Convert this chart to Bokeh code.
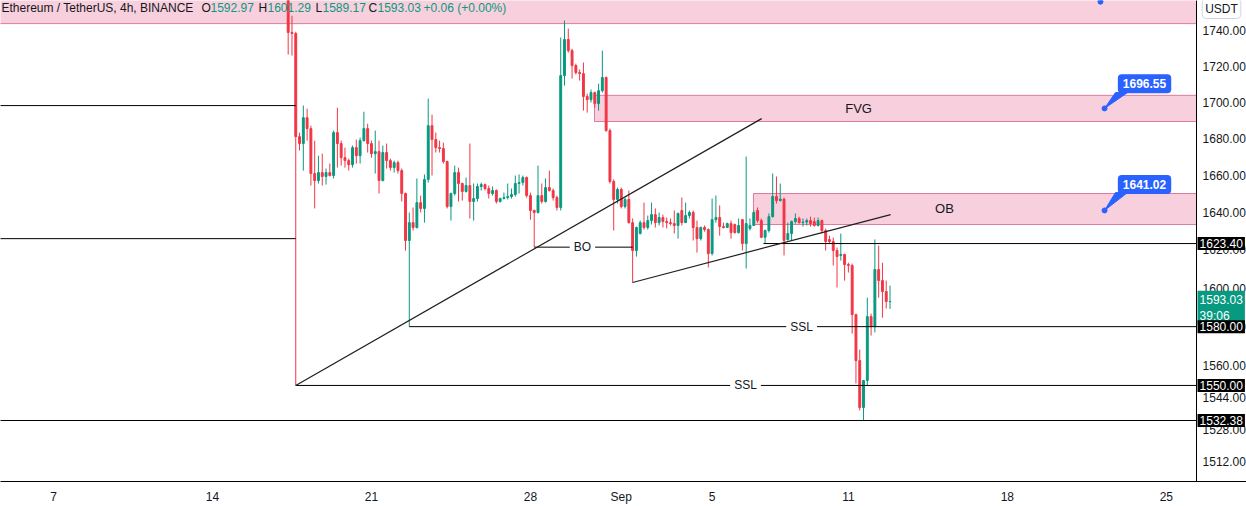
import numpy as np
import pandas as pd
from bokeh.plotting import figure
from bokeh.models import ColumnDataSource, FixedTicker, PrintfTickFormatter, Label, Range1d
from bokeh.embed import file_html
from bokeh.resources import INLINE

FONT = "Liberation Sans"
UP = "#089981"
DOWN = "#f23645"
INK = "#131722"

# ---------------- data (ETH/USDT 4h, Binance) ----------------
first_bar = "2023-08-17 08:00"
origin = "2023-08-07"          # x axis unit: days since Aug 7

opens = [
    1772.0, 1739.1, 1738.5, 1681.0, 1677.2, 1691.4, 1685.4, 1660.9, 1657.1, 1661.4,
    1659.3, 1661.4, 1659.8, 1683.2, 1677.2, 1669.5, 1667.9, 1665.7, 1675.0, 1670.6,
    1678.8, 1685.4, 1677.2, 1671.7, 1672.8, 1657.1, 1672.3, 1667.9, 1664.1, 1666.8,
    1662.5, 1650.1, 1625.0, 1634.5, 1631.9, 1645.2, 1642.1, 1657.7, 1687.0, 1679.4,
    1675.0, 1674.5, 1667.4, 1643.1, 1650.1, 1661.4, 1655.5, 1651.2, 1654.4, 1645.8,
    1647.4, 1653.9, 1654.9, 1652.8, 1650.1, 1651.7, 1645.8, 1647.4, 1647.9, 1648.5,
    1649.6, 1655.5, 1656.0, 1658.7, 1649.0, 1641.0, 1639.9, 1649.0, 1645.8, 1653.3,
    1651.7, 1647.9, 1642.6, 1714.8, 1735.1, 1728.8, 1720.4, 1716.5, 1715.9, 1703.1,
    1701.4, 1705.3, 1699.2, 1706.4, 1713.7, 1684.3, 1656.6, 1646.9, 1652.3, 1643.1,
    1646.9, 1634.5, 1619.7, 1628.7, 1634.5, 1631.9, 1635.6, 1638.8, 1634.5, 1637.2,
    1635.1, 1634.5, 1634.0, 1633.0, 1641.0, 1634.5, 1638.3, 1639.9, 1631.9, 1626.0,
    1631.9, 1630.8, 1618.1, 1636.1, 1637.2, 1632.4, 1631.9, 1634.0, 1633.5, 1629.2,
    1636.1, 1623.4, 1631.4, 1633.0, 1641.0, 1635.6, 1626.7, 1630.3, 1637.7, 1648.5,
    1646.3, 1647.1, 1625.5, 1628.7, 1635.1, 1636.7, 1634.5, 1634.8, 1635.6, 1635.1,
    1633.0, 1635.6, 1630.3, 1625.5, 1624.5, 1619.7, 1617.1, 1617.6, 1612.3, 1611.8,
    1586.2, 1562.6, 1538.9, 1552.5, 1585.2, 1580.0, 1609.7, 1603.9, 1598.2, 1592.97,
]
highs = [
    1781.0, 1748.6, 1739.5, 1683.2, 1698.1, 1696.4, 1687.0, 1678.8, 1670.6, 1671.7,
    1663.6, 1666.3, 1684.3, 1696.9, 1678.8, 1675.0, 1669.0, 1676.1, 1679.4, 1680.4,
    1694.7, 1688.1, 1678.8, 1684.3, 1678.8, 1676.1, 1677.2, 1669.0, 1667.9, 1667.9,
    1663.6, 1650.6, 1639.9, 1642.6, 1658.2, 1649.0, 1660.4, 1702.0, 1693.1, 1683.2,
    1678.8, 1677.7, 1667.9, 1650.6, 1665.2, 1664.1, 1656.0, 1658.7, 1677.2, 1655.5,
    1655.5, 1656.0, 1655.5, 1654.4, 1653.9, 1652.3, 1647.9, 1650.6, 1655.5, 1652.8,
    1659.8, 1660.4, 1659.8, 1659.3, 1650.6, 1641.5, 1665.2, 1655.5, 1658.2, 1662.5,
    1652.8, 1649.0, 1736.2, 1745.8, 1741.3, 1729.9, 1721.5, 1718.2, 1722.1, 1704.7,
    1707.0, 1705.9, 1710.3, 1728.8, 1714.3, 1685.4, 1657.7, 1653.3, 1653.3, 1647.9,
    1651.7, 1636.7, 1632.4, 1635.6, 1645.2, 1638.3, 1645.2, 1642.1, 1639.9, 1638.8,
    1637.2, 1636.7, 1641.0, 1639.9, 1648.0, 1645.2, 1641.0, 1641.0, 1635.6, 1632.4,
    1633.0, 1631.4, 1647.4, 1649.0, 1643.7, 1634.5, 1634.5, 1635.6, 1634.0, 1636.7,
    1636.1, 1670.1, 1636.7, 1641.0, 1642.6, 1636.7, 1630.8, 1639.4, 1660.9, 1659.3,
    1655.5, 1647.9, 1634.5, 1635.6, 1639.4, 1637.7, 1636.7, 1636.7, 1637.7, 1637.2,
    1637.2, 1636.1, 1631.4, 1627.6, 1626.6, 1621.3, 1628.7, 1618.1, 1613.3, 1612.8,
    1586.7, 1568.2, 1552.5, 1595.0, 1586.7, 1625.6, 1622.3, 1613.3, 1603.9, 1601.29,
]
lows = [
    1726.6, 1726.0, 1550.0, 1673.4, 1662.5, 1678.8, 1654.4, 1642.1, 1655.5, 1654.4,
    1654.9, 1659.3, 1658.2, 1664.1, 1665.2, 1664.1, 1662.5, 1664.1, 1666.3, 1666.3,
    1678.3, 1672.3, 1669.5, 1660.9, 1650.1, 1656.6, 1663.6, 1662.5, 1661.4, 1660.9,
    1645.8, 1619.7, 1580.0, 1630.3, 1631.4, 1639.9, 1634.5, 1656.0, 1659.8, 1672.3,
    1672.3, 1666.3, 1642.1, 1635.6, 1649.0, 1645.8, 1646.3, 1650.6, 1636.7, 1635.6,
    1645.8, 1651.7, 1651.7, 1647.4, 1649.0, 1644.7, 1645.2, 1646.9, 1646.9, 1647.4,
    1648.5, 1650.1, 1654.4, 1647.9, 1636.1, 1621.5, 1639.4, 1644.7, 1645.2, 1651.2,
    1646.3, 1641.0, 1641.0, 1709.2, 1727.7, 1713.1, 1715.4, 1712.0, 1695.3, 1694.2,
    1699.8, 1697.0, 1695.3, 1705.3, 1683.7, 1655.5, 1630.3, 1644.7, 1642.1, 1642.1,
    1634.0, 1602.9, 1616.5, 1628.2, 1630.8, 1630.8, 1633.5, 1631.9, 1633.0, 1631.9,
    1631.4, 1633.0, 1628.7, 1626.0, 1633.0, 1634.5, 1636.7, 1625.0, 1618.6, 1625.0,
    1629.7, 1610.8, 1617.1, 1634.5, 1627.6, 1631.4, 1631.9, 1626.0, 1628.7, 1628.7,
    1619.7, 1610.2, 1630.3, 1633.0, 1634.5, 1626.2, 1623.4, 1629.2, 1637.2, 1644.7,
    1645.8, 1617.1, 1625.0, 1625.0, 1634.0, 1634.0, 1632.4, 1633.0, 1632.4, 1632.4,
    1632.4, 1628.7, 1619.7, 1623.4, 1611.8, 1600.3, 1614.4, 1603.9, 1608.1, 1576.4,
    1551.0, 1537.4, 1532.38, 1549.9, 1575.4, 1577.0, 1595.0, 1584.6, 1589.4, 1589.17,
]
closes = [
    1739.1, 1738.5, 1681.0, 1677.2, 1691.4, 1685.4, 1660.9, 1657.1, 1661.4, 1659.3,
    1661.4, 1659.8, 1683.2, 1677.2, 1669.5, 1667.9, 1665.7, 1675.0, 1670.6, 1678.8,
    1685.4, 1677.2, 1671.7, 1672.8, 1657.1, 1672.3, 1667.9, 1664.1, 1666.8, 1662.5,
    1650.1, 1625.0, 1634.5, 1631.9, 1645.2, 1642.1, 1657.7, 1687.0, 1679.4, 1675.0,
    1674.5, 1667.4, 1643.1, 1650.1, 1661.4, 1655.5, 1651.2, 1654.4, 1645.8, 1647.4,
    1653.9, 1654.9, 1652.8, 1650.1, 1651.7, 1645.8, 1647.4, 1647.9, 1648.5, 1649.6,
    1655.5, 1656.0, 1658.7, 1649.0, 1641.0, 1639.9, 1649.0, 1645.8, 1653.3, 1651.7,
    1647.9, 1642.6, 1714.8, 1735.1, 1728.8, 1720.4, 1716.5, 1715.9, 1703.1, 1701.4,
    1705.3, 1699.2, 1706.4, 1713.7, 1684.3, 1656.6, 1646.9, 1652.3, 1643.1, 1646.9,
    1634.5, 1619.7, 1631.9, 1634.5, 1631.9, 1635.6, 1638.8, 1634.5, 1637.2, 1635.1,
    1634.5, 1634.0, 1633.0, 1639.4, 1634.5, 1638.3, 1639.9, 1631.9, 1626.0, 1631.9,
    1630.8, 1618.1, 1636.1, 1637.2, 1632.4, 1631.9, 1634.0, 1629.2, 1629.2, 1633.0,
    1623.4, 1634.0, 1633.0, 1639.9, 1635.6, 1626.7, 1630.3, 1637.7, 1648.5, 1646.3,
    1647.1, 1625.0, 1628.7, 1635.1, 1636.7, 1634.5, 1634.8, 1635.6, 1634.0, 1633.0,
    1635.6, 1630.3, 1624.5, 1624.5, 1619.7, 1616.5, 1617.6, 1612.3, 1611.8, 1586.2,
    1562.6, 1538.9, 1552.5, 1585.2, 1580.0, 1609.7, 1603.9, 1598.2, 1592.97, 1593.03,
]

x_ticks = [0, 7, 14, 21, 25, 29, 35, 42, 49]
x_tick_labels = ["7", "14", "21", "28", "Sep", "5", "11", "18", "25"]
y_ticks = [1512, 1528, 1544, 1560, 1580, 1600, 1620, 1640, 1660, 1680, 1700, 1720, 1740]

axis_x = 50.33                 # where the price scale begins (days)

# drawings: zones (top band, FVG, OB)
zone_left = [-3.0, 23.82, 30.82]
zone_bottom = [1744.1, 1689.3, 1633.5]
zone_top = [1800.0, 1703.8, 1650.1]

# horizontal levels
hline_levels = [1698.1, 1626.0, 1532.38, 1623.40, 1580.0, 1550.0, 1621.5]
hline_x0 = [-3.0, -3.0, -3.0, 31.26, 15.667, 10.667, 21.167]
hline_x1 = [10.667, 10.667, axis_x, axis_x, axis_x, axis_x, 25.5]

# trend lines
tl_x0 = [10.667, 25.5]
tl_y0 = [1550.0, 1602.9]
tl_x1 = [31.18, 36.86]
tl_y1 = [1690.9, 1638.8]

# text tags
tag_text = ["FVG", "OB", "BO", "SSL", "SSL"]
tag_x = [35.45, 39.23, 23.29, 32.94, 30.47]
tag_y = [1696.5, 1641.8, 1621.5, 1580.0, 1550.0]

# price callouts
callout_price = [1696.55, 1641.02]
callout_box_y = [1710.3, 1655.0]
callout_base_y = [1705.3, 1650.6]

right_marks = [1623.40, 1580.00, 1550.00, 1532.38]
last_ohlc = [1592.97, 1601.29, 1589.17, 1593.03]
header = "Ethereum / TetherUS, 4h, BINANCE"
change_txt = "+0.06 (+0.00%)"
countdown = "39:06"

# ---------------- figure ----------------
W, H = 1246, 506
AXB = 25
FH = H - AXB

dates = pd.date_range(first_bar, periods=len(opens), freq="4h")
xs = ((dates - pd.Timestamp(origin)) / pd.Timedelta(days=1)).to_numpy()
o = np.array(opens); c = np.array(closes)
colors = [UP if cc >= oo else DOWN for oo, cc in zip(o, c)]
src = ColumnDataSource(dict(x=xs, top=np.maximum(o, c), bottom=np.minimum(o, c),
                            high=highs, low=lows, color=colors))

p = figure(width=W, height=H, y_axis_type="log", y_axis_location="right",
           x_range=Range1d(-2.334, 52.53), y_range=Range1d(1502.2, 1757.3),
           toolbar_location=None, output_backend="svg",
           min_border_left=0, min_border_top=0,
           min_border_right=0, min_border_bottom=AXB)
p.background_fill_color = "white"
p.border_fill_color = "white"
p.outline_line_color = None
p.xgrid.visible = False
p.ygrid.visible = False

# zones
p.quad(left=zone_left, right=[axis_x] * len(zone_left), bottom=zone_bottom, top=zone_top,
       fill_color="#f8cfdc", line_color="#da7b9e", line_width=1)

# candles
p.segment(x0="x", y0="high", x1="x", y1="low", line_color="color", line_width=1, source=src)
p.vbar(x="x", width=0.5 / 6, top="top", bottom="bottom", fill_color="color",
       line_color="color", line_width=1, source=src)

# horizontal lines and trend lines
p.segment(x0=hline_x0, y0=hline_levels, x1=hline_x1, y1=hline_levels,
          line_color="black", line_width=1)
p.segment(x0=tl_x0, y0=tl_y0, x1=tl_x1, y1=tl_y1, line_color="#1e1e1e", line_width=1.2)

# callouts (blue)
tip_x = 46.28
box_x = 48.04
wedge_xs = [[46.76, 47.29, tip_x] for _ in callout_price] + [[46.5, 47.0, 46.1]]
wedge_ys = [[b, b, t] for b, t in zip(callout_base_y, callout_price)] + [[1775.0, 1775.0, 1756.6]]
p.patches(xs=wedge_xs, ys=wedge_ys, fill_color="#2962ff", line_color="#2962ff", line_width=1)
p.scatter(x=[tip_x] * len(callout_price) + [46.1], y=callout_price + [1756.6], size=5,
          color="#2962ff")
for pr, by in zip(callout_price, callout_box_y):
    p.add_layout(Label(x=box_x, y=by, text=f"{pr:.2f}", text_align="center",
                       text_baseline="middle", text_color="white", text_font=FONT,
                       text_font_size="12px", text_font_style="bold",
                       background_fill_color="#2962ff", border_radius=4, padding=5))

# tags on the chart
for t, tx, ty in zip(tag_text, tag_x, tag_y):
    boxed = t in ("BO", "SSL")
    p.add_layout(Label(x=tx, y=ty, text=t, text_align="center", text_baseline="middle",
                       text_color=INK, text_font=FONT,
                       text_font_size="12px" if boxed else "13px",
                       background_fill_color="white" if boxed else None,
                       padding=4 if boxed else 0))

# axes
p.yaxis.fixed_location = axis_x
p.yaxis.ticker = FixedTicker(ticks=y_ticks)
p.yaxis.formatter = PrintfTickFormatter(format="%.2f")
p.xaxis.ticker = FixedTicker(ticks=x_ticks)
p.xaxis.major_label_overrides = dict(zip(x_ticks, x_tick_labels))
for ax in (p.xaxis, p.yaxis):
    ax.axis_line_color = "black"
    ax.axis_line_width = 1
    ax.major_tick_line_color = None
    ax.minor_tick_line_color = None
    ax.major_tick_out = 0
    ax.major_tick_in = 0
    ax.major_label_text_font = FONT
    ax.major_label_text_font_size = "12px"
    ax.major_label_text_color = INK
p.yaxis.major_label_standoff = 6
p.xaxis.major_label_standoff = 8

# price marks on the right scale (countdown box first, level boxes on top)
p.add_layout(Label(x=axis_x, x_offset=1, y=1598.6, text=f"{last_ohlc[3]:.2f}\n{countdown}",
                   text_align="left", text_baseline="top", text_color="white",
                   text_font=FONT, text_font_size="12px", text_line_height=1.15,
                   background_fill_color=UP, padding=2))
for lvl in right_marks:
    p.add_layout(Label(x=axis_x, x_offset=1, y=lvl, text=f"{lvl:.2f}",
                       text_align="left", text_baseline="middle", text_color="white",
                       text_font=FONT, text_font_size="12px",
                       background_fill_color="black", padding=2))
p.add_layout(Label(x=axis_x + 1.1, y=FH - 8, y_units="screen", text="USDT",
                   text_align="center", text_baseline="middle", text_color=INK,
                   text_font=FONT, text_font_size="12px", background_fill_color="white",
                   border_line_color="#d1d4dc", border_radius=4, padding=3))

# legend line at top-left
ly = FH - 7
pieces = [(header, 1, INK),
          ("O", 201, INK), (f"{last_ohlc[0]:.2f}", 210, UP),
          ("H", 258, INK), (f"{last_ohlc[1]:.2f}", 267, UP),
          ("L", 315, INK), (f"{last_ohlc[2]:.2f}", 322, UP),
          ("C", 368, INK), (f"{last_ohlc[3]:.2f}", 377, UP),
          (change_txt, 423, UP)]
for txt, px, col in pieces:
    p.add_layout(Label(x=px, x_units="screen", y=ly, y_units="screen", text=txt,
                       text_align="left", text_baseline="middle", text_color=col,
                       text_font=FONT, text_font_size="12px"))

open("out.html", "w").write(file_html(p, INLINE))
